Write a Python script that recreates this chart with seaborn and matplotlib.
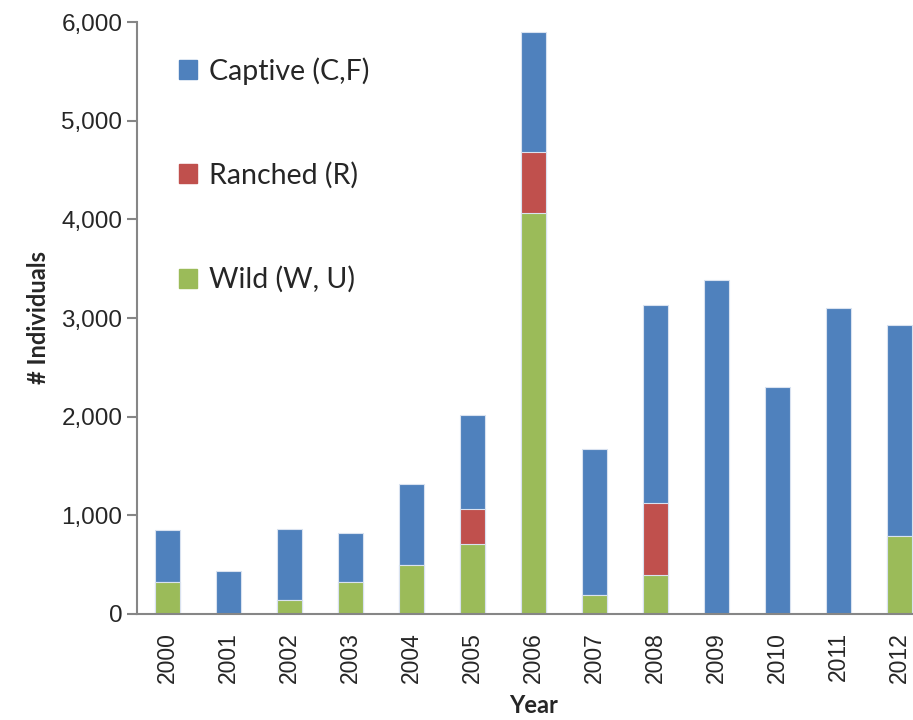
import numpy as np
import pandas as pd
import matplotlib
matplotlib.use("Agg")
import matplotlib.pyplot as plt
import matplotlib.patches as mpatches
import seaborn as sns

# values
years = ['2000', '2001', '2002', '2003', '2004', '2005', '2006',
         '2007', '2008', '2009', '2010', '2011', '2012']
wild = [324, 0, 142, 321, 493, 712, 4069, 192, 395, 0, 0, 0, 789]
ranched = [0, 0, 0, 0, 0, 354, 617, 0, 735, 0, 0, 0, 0]
captive = [526, 432, 722, 496, 823, 948, 1214, 1485, 1998, 3381, 2305, 3097, 2136]
y_ticks = [0, 1000, 2000, 3000, 4000, 5000, 6000]

series_labels = ['Captive (C,F)', 'Ranched (R)', 'Wild (W, U)']
colors = {'captive': '#4F81BD', 'ranched': '#C0504D', 'wild': '#9BBB59'}

df = pd.DataFrame({'year': years, 'wild': wild, 'ranched': ranched, 'captive': captive})
df['wild_ranched'] = df['wild'] + df['ranched']
df['total'] = df['wild_ranched'] + df['captive']

sns.set_theme(style="white")
plt.rcParams['font.family'] = ['Lato', 'DejaVu Sans']

fig = plt.figure(figsize=(9.13, 7.2), dpi=100)
ax = fig.add_axes([137 / 913, 106 / 720, 793 / 913, 592 / 720])

# stacked bars: draw cumulative totals back to front
bw = 0.41
edge = '#D9E2F0'
sns.barplot(data=df, x='year', y='total', color=colors['captive'], width=bw,
            saturation=1, edgecolor=edge, linewidth=0.8, ax=ax)
sns.barplot(data=df, x='year', y='wild_ranched', color=colors['ranched'], width=bw,
            saturation=1, edgecolor=edge, linewidth=0.8, ax=ax)
sns.barplot(data=df, x='year', y='wild', color=colors['wild'], width=bw,
            saturation=1, edgecolor=edge, linewidth=0.8, ax=ax)

ax.set_xlim(-0.5, 12.5)
ax.set_ylim(0, 6000)

tick_font = ['Liberation Sans', 'DejaVu Sans']
ax.set_yticks(y_ticks, labels=[f"{v:,}" for v in y_ticks],
              fontsize=17.5, fontfamily=tick_font)
ax.set_xticks(range(len(years)), labels=years, rotation=90,
              fontsize=16.5, fontfamily=tick_font)

# category boundaries get the tick marks, labels sit on the bar centres
ax.set_xticks(np.arange(-0.5, 13, 1), minor=True)
ax.tick_params(axis='x', which='major', length=0, pad=13)
ax.tick_params(axis='x', which='minor', length=8, width=1.5, color='#868686', direction='out')
ax.tick_params(axis='y', which='major', length=7, width=1.5, color='#868686',
               direction='out', left=True)

for s in ['top', 'right']:
    ax.spines[s].set_visible(False)
for s in ['left', 'bottom']:
    ax.spines[s].set_color('#868686')
    ax.spines[s].set_linewidth(1.5)

ax.set_xlabel('Year', fontsize=17, fontweight='bold', labelpad=8)
ax.set_ylabel('# Individuals', fontsize=17, fontweight='bold', labelpad=8)

handles = [mpatches.Patch(color=colors['captive']),
           mpatches.Patch(color=colors['ranched']),
           mpatches.Patch(color=colors['wild'])]
ax.legend(handles, series_labels, loc='upper left', bbox_to_anchor=(0.035, 0.965),
          frameon=False, fontsize=20.5, handlelength=0.65, handleheight=0.65,
          handletextpad=0.4, labelspacing=2.72, borderpad=0)

fig.savefig('out.png', dpi=100)
